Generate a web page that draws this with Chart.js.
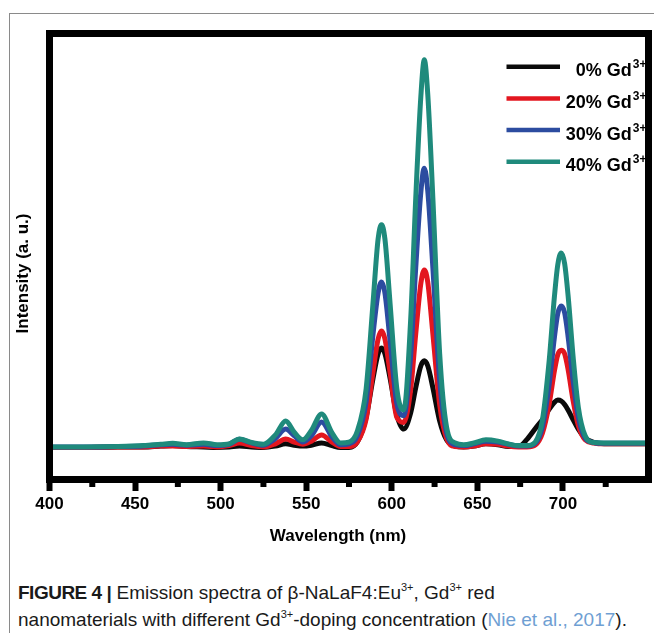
<!DOCTYPE html>
<html><head><meta charset="utf-8">
<script src="https://cdn.jsdelivr.net/npm/chart.js@4.4.1/dist/chart.umd.min.js"></script>
<style>
html,body{margin:0;padding:0;background:#fff;}
body{width:654px;height:633px;position:relative;overflow:hidden;font-family:"Liberation Sans",Arial,sans-serif;}
#frame{position:absolute;left:9px;top:13px;width:700px;height:700px;border-left:1px solid #8a8a8a;border-top:1px solid #8a8a8a;}
#wrap{position:absolute;left:0;top:0;width:654px;height:560px;}
#cap{position:absolute;left:18px;top:579px;font-size:19px;line-height:27px;color:#1a1a1a;white-space:nowrap;}
#cap b{letter-spacing:-0.5px;}
#cap sup{font-size:11px;line-height:0;vertical-align:0;position:relative;top:-8px;}
#cap .ref{color:#6f9fd3;}
</style></head><body>
<div id="frame"></div>
<div id="wrap"><canvas id="c" width="654" height="560"></canvas></div>
<div id="cap"><b>FIGURE 4 |</b> Emission spectra of β-NaLaF4:Eu<sup>3+</sup>, Gd<sup>3+</sup> red<br>nanomaterials with different Gd<sup>3+</sup>-doping concentration (<span class="ref">Nie et al., 2017</span>).</div>
<script>
const wavelength = [400,420,440,455,465,472,480,490,498,505,511,518,525,532,538,543,548,553,559,565,570,575,580,585,589,592,594,596,599,603,607,611,614,617,619,621,624,628,632,637,642,648,655,662,668,674,679,684,688,692,695,697,699,701,703,706,709,713,718,724,732,740,750];
const gd0 = [7.2,7.2,7.3,7.3,7.5,7.6,7.4,7.3,7.2,7.3,7.5,7.3,7.2,7.5,8.0,7.7,7.5,7.7,8.2,7.6,7.2,7.2,8.5,14.0,22.6,28.2,29.5,28.2,22.7,14.4,11.3,14.9,20.6,25.5,26.6,25.5,20.6,13.1,8.9,7.5,7.3,7.5,8.0,7.8,7.4,7.4,9.0,11.5,13.4,15.8,17.3,17.8,17.6,16.8,15.6,13.4,11.3,9.3,8.3,8.0,8.0,8.0,8.0];
const gd20 = [7.2,7.2,7.3,7.3,7.5,7.5,7.4,7.5,7.3,7.6,8.2,7.6,7.3,8.0,9.1,8.4,7.9,8.6,10.0,8.4,7.4,7.4,8.5,13.5,24.0,31.5,33.3,31.5,24.0,13.9,12.8,20.1,32.7,44.0,47.0,44.3,32.7,16.7,9.2,7.4,7.3,7.5,8.0,7.9,7.5,7.3,7.3,7.8,10.4,17.0,24.3,28.0,29.0,28.2,24.7,17.6,12.1,8.9,8.2,8.0,8.0,8.0,8.0];
const gd30 = [7.3,7.3,7.4,7.5,7.8,7.9,7.7,7.9,7.6,7.9,9.0,8.2,7.7,9.2,11.3,9.8,8.4,9.8,12.9,9.6,7.8,8.0,9.9,17.4,32.4,41.8,44.3,41.8,31.1,16.9,14.3,27.6,47.5,64.5,69.8,64.8,47.5,22.2,10.5,7.8,7.6,8.0,8.6,8.4,7.9,7.5,7.5,8.2,11.8,21.5,31.8,37.2,38.9,37.4,32.1,22.0,14.0,9.3,8.3,8.1,8.1,8.1,8.1];
const gd40 = [7.3,7.3,7.4,7.6,7.9,8.1,7.8,8.2,7.8,8.0,9.1,8.3,7.9,10.0,13.1,10.6,8.9,11.0,14.7,10.5,8.2,8.4,11.0,20.3,39.4,53.9,57.1,53.9,39.5,20.2,15.6,35.6,63.1,86.0,94.1,86.5,63.1,28.1,11.8,8.2,7.8,8.2,8.9,8.6,8.0,7.6,7.6,8.5,13.3,26.8,40.9,48.2,50.8,48.4,41.3,27.3,16.2,9.8,8.3,8.2,8.2,8.2,8.2];
const seriesLabels = ['0%','20%','30%','40%'];
const seriesColors = ['#0a0a0a','#e3161f','#2c4ca0','#1f8a7c'];
const xTickLabels = [400,450,500,550,600,650,700];
const xMinorTicks = [425,475,525,575,625,675,725];
const xTitle = 'Wavelength (nm)';
const yTitle = 'Intensity (a. u.)';

const FONT = '"Liberation Sans", Arial, sans-serif';
const seriesData = [gd0, gd20, gd30, gd40];

const decor = {
  id: 'decor',
  afterDatasetsDraw(chart) {
    const {ctx, chartArea: a, scales} = chart;
    ctx.save();
    chart.data.datasets.forEach((ds, i) => {
      const y = a.top + 33.2 + i * 31.7;
      ctx.strokeStyle = ds.borderColor;
      ctx.lineWidth = 4.5;
      ctx.lineCap = 'butt';
      ctx.beginPath();
      ctx.moveTo(a.right - 142, y);
      ctx.lineTo(a.right - 88.5, y);
      ctx.stroke();
      ctx.fillStyle = '#000';
      ctx.textBaseline = 'alphabetic';
      ctx.textAlign = 'left';
      ctx.font = 'bold 12px ' + FONT;
      const sw = ctx.measureText('3+').width;
      ctx.font = 'bold 18px ' + FONT;
      const main = ds.label + ' Gd';
      const mw = ctx.measureText(main).width;
      const right = a.right - 2;
      const x0 = right - sw - 1 - mw;
      ctx.fillText(main, x0, y + 9.5);
      ctx.font = 'bold 12px ' + FONT;
      ctx.fillText('3+', x0 + mw + 1, y + 1.5);
    });
    ctx.strokeStyle = '#000';
    ctx.lineWidth = 7;
    ctx.strokeRect(a.left, a.top, a.right - a.left, a.bottom - a.top);
    const xs = scales.x;
    ctx.lineWidth = 6;
    xMinorTicks.forEach(v => {
      const px = xs.getPixelForValue(v);
      ctx.beginPath();
      ctx.moveTo(px, a.bottom);
      ctx.lineTo(px, a.bottom + 7.5);
      ctx.stroke();
    });
    ctx.fillStyle = '#000';
    ctx.font = 'bold 17px ' + FONT;
    ctx.textAlign = 'center';
    ctx.textBaseline = 'middle';
    ctx.fillText(xTitle, (a.left + a.right) / 2 - 11, a.bottom + 56.5);
    ctx.translate(a.left - 26.5, (a.top + a.bottom) / 2 + 17);
    ctx.rotate(-Math.PI / 2);
    ctx.fillText(yTitle, 0, 0);
    ctx.restore();
  }
};

new Chart(document.getElementById('c'), {
  type: 'line',
  data: {
    datasets: seriesData.map((arr, i) => ({
      label: seriesLabels[i],
      data: wavelength.map((w, j) => ({x: w, y: arr[j]})),
      borderColor: seriesColors[i],
      backgroundColor: seriesColors[i],
      borderWidth: 5,
      pointRadius: 0,
      fill: false,
      cubicInterpolationMode: 'monotone',
      order: 3 - i
    }))
  },
  options: {
    responsive: false,
    animation: false,
    events: [],
    layout: {padding: {left: 49.5, right: 5.5, top: 33.5, bottom: 0}},
    plugins: {legend: {display: false}, tooltip: {enabled: false}, title: {display: false}},
    scales: {
      x: {
        type: 'linear', min: 400, max: 750,
        afterBuildTicks(scale) { scale.ticks = xTickLabels.map(v => ({value: v})); },
        afterFit(scale) { scale.height = 80.5; },
        border: {display: false},
        grid: {drawOnChartArea: false, drawTicks: true, tickLength: 11.5, tickWidth: 6, tickColor: '#000'},
        ticks: {
          autoSkip: false, maxRotation: 0, padding: 3, color: '#000',
          font: {family: FONT, size: 17, weight: 'bold'}
        }
      },
      y: {type: 'linear', min: 0, max: 100, display: false}
    }
  },
  plugins: [decor]
});
</script>
</body></html>
